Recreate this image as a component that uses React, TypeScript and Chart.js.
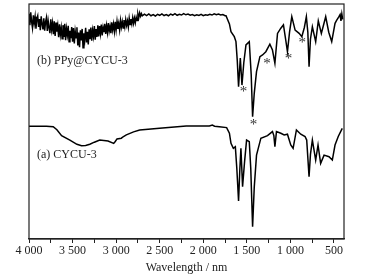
import React, { useEffect, useRef } from "react";
import { Chart, registerables } from "chart.js";

Chart.register(...registerables);

// Curve (b) PPy@CYCU-3 (upper trace): noisy high-wavenumber part, read every 10 cm-1
const wnBNoisy: number[] = [
  4000, 3990, 3980, 3970, 3960, 3950, 3940, 3930, 3920, 3910,
  3900, 3890, 3880, 3870, 3860, 3850, 3840, 3830, 3820, 3810,
  3800, 3790, 3780, 3770, 3760, 3750, 3740, 3730, 3720, 3710,
  3700, 3690, 3680, 3670, 3660, 3650, 3640, 3630, 3620, 3610,
  3600, 3590, 3580, 3570, 3560, 3550, 3540, 3530, 3520, 3510,
  3500, 3490, 3480, 3470, 3460, 3450, 3440, 3430, 3420, 3410,
  3400, 3390, 3380, 3370, 3360, 3350, 3340, 3330, 3320, 3310,
  3300, 3290, 3280, 3270, 3260, 3250, 3240, 3230, 3220, 3210,
  3200, 3190, 3180, 3170, 3160, 3150, 3140, 3130, 3120, 3110,
  3100, 3090, 3080, 3070, 3060, 3050, 3040, 3030, 3020, 3010,
  3000, 2990, 2980, 2970, 2960, 2950, 2940, 2930, 2920, 2910,
  2900, 2890, 2880, 2870, 2860, 2850, 2840, 2830, 2820, 2810,
  2800, 2790, 2780, 2770, 2760, 2750, 2740, 2730, 2720, 2710,
];
const valBNoisy: number[] = [
  95.8, 91.0, 96.5, 92.4, 89.8, 95.2, 91.8, 94.6, 89.5, 93.8,
  95.0, 90.2, 93.6, 88.9, 94.8, 91.5, 89.2, 93.9, 88.6, 92.4,
  94.2, 88.5, 92.8, 90.0, 87.6, 93.5, 89.1, 91.9, 87.2, 92.6,
  86.4, 92.1, 88.2, 90.8, 85.9, 91.4, 87.0, 89.9, 85.2, 91.0,
  86.0, 91.6, 84.6, 89.5, 86.8, 90.7, 83.9, 88.6, 85.4, 90.2,
  84.0, 89.8, 83.2, 88.4, 85.6, 90.1, 82.4, 87.9, 81.6, 88.8,
  84.5, 89.4, 81.4, 87.6, 84.9, 89.9, 83.6, 88.2, 82.8, 89.2,
  85.0, 90.0, 84.4, 88.8, 86.2, 90.6, 84.8, 89.3, 86.0, 90.9,
  86.2, 90.6, 87.4, 91.2, 86.6, 90.0, 88.0, 91.6, 87.3, 90.8,
  87.9, 91.9, 88.4, 90.6, 87.6, 92.2, 89.0, 91.5, 88.3, 92.4,
  89.0, 92.6, 89.4, 91.7, 88.9, 93.0, 90.2, 92.5, 89.8, 93.2,
  90.4, 93.4, 90.9, 92.8, 90.2, 93.9, 91.3, 93.6, 91.6, 94.2,
  91.8, 94.0, 92.0, 94.4, 93.0, 95.8, 94.2, 96.2, 94.8, 95.9,
];
// Curve (b): plateau and fingerprint region
const wnBRest: number[] = [
  2700, 2675, 2650, 2625, 2600, 2575, 2550, 2525, 2500, 2475, 2450, 2425, 2400, 2375, 2350, 2325,
  2300, 2275, 2250, 2225, 2200, 2175, 2150, 2125, 2100, 2075, 2050, 2025, 2000, 1975, 1950, 1925,
  1900, 1875, 1850, 1825, 1800, 1775, 1750, 1739, 1700, 1682, 1644, 1625, 1610, 1595, 1575, 1556,
  1535, 1510, 1472, 1450, 1434, 1415, 1389, 1350, 1320, 1282, 1236, 1206, 1178, 1148, 1110, 1080,
  1055, 1034, 1010, 984, 946, 900, 869, 840, 817, 800, 786, 770, 748, 710, 680, 645,
  595, 560, 526, 488, 470, 443, 430, 420, 410, 400,
];
const valBRest: number[] = [
  95.0, 95.7, 95.1, 95.8, 95.0, 95.5, 94.9, 95.6, 95.2, 95.8, 95.1, 95.5, 95.0, 95.7, 95.3, 95.9,
  95.2, 95.6, 95.3, 95.9, 95.4, 95.7, 95.2, 95.5, 95.0, 95.4, 95.1, 95.6, 95.0, 95.4, 95.2, 95.6,
  95.3, 95.8, 95.4, 95.7, 95.3, 95.5, 95.0, 95.0, 91.5, 88.2, 86.1, 84.0, 76.0, 64.8, 77.0, 65.5,
  75.0, 82.6, 84.0, 70.0, 52.0, 62.0, 71.2, 77.6, 78.3, 79.7, 82.9, 80.4, 74.8, 87.5, 89.7, 91.1,
  85.0, 79.7, 88.0, 94.6, 88.9, 87.5, 86.1, 90.0, 94.6, 88.0, 73.3, 85.0, 90.3, 84.0, 92.8, 87.5,
  94.6, 88.0, 84.0, 91.8, 93.0, 94.6, 95.5, 92.8, 95.8, 93.5,
];

// Curve (a) CYCU-3 (lower trace)
const wnA: number[] = [
  4000, 3900, 3800, 3722, 3680, 3626, 3531, 3450, 3397, 3350, 3302, 3250, 3188, 3093, 3028, 3010,
  2990, 2940, 2920, 2883, 2800, 2730, 2502, 2196, 1930, 1896, 1870, 1816, 1732, 1700, 1682, 1655,
  1632, 1615, 1595, 1580, 1568, 1549, 1526, 1503, 1472, 1455, 1434, 1415, 1389, 1339, 1263, 1206,
  1190, 1178, 1160, 1110, 1072, 1034, 996, 969, 931, 881, 832, 813, 786, 770, 748, 710,
  683, 653, 614, 557, 519, 488, 451, 405,
];
const valA: number[] = [
  48.0, 48.0, 48.0, 47.8, 46.5, 44.0, 42.1, 40.3, 39.7, 39.8, 40.3, 41.2, 42.1, 41.7, 40.7, 41.5,
  42.6, 42.9, 43.5, 44.3, 45.6, 46.4, 47.1, 48.1, 48.1, 48.5, 48.0, 47.8, 47.4, 45.0, 40.7, 38.6,
  39.3, 30.0, 16.2, 30.0, 38.6, 22.3, 32.9, 42.1, 41.4, 30.0, 5.2, 22.0, 35.7, 42.9, 44.0, 45.7,
  44.0, 39.3, 45.7, 45.0, 44.3, 44.6, 40.0, 38.6, 46.4, 44.6, 43.6, 42.1, 26.5, 36.0, 42.1, 33.6,
  40.0, 32.2, 35.7, 35.0, 33.6, 40.0, 43.6, 47.1,
];

// Asterisk markers on curve (b)
const starX: number[] = [1537, 1423, 1270, 1023, 863];
const starY: number[] = [63.4, 49.5, 75.4, 77.6, 84.3];

const labelTexts: string[] = ["(b) PPy@CYCU-3", "(a) CYCU-3"];
const labelX: number[] = [3908, 3908];
const labelY: number[] = [75.7, 35.7];

const FONT = "'Times New Roman', 'Liberation Serif', serif";

function fmt(v: number): string {
  if (v >= 1000) {
    const th = Math.floor(v / 1000);
    const rest = String(v % 1000).padStart(3, "0");
    return th + " " + rest;
  }
  return String(v);
}

export default function App() {
  const ref = useRef<HTMLCanvasElement | null>(null);
  useEffect(() => {
    if (!ref.current) return;
    const wnB = wnBNoisy.concat(wnBRest);
    const valB = valBNoisy.concat(valBRest);
    const framePlugin = {
      id: "frameAndText",
      afterDatasetsDraw(chart: any) {
        const { ctx, chartArea, scales } = chart;
        ctx.save();
        ctx.strokeStyle = "#222";
        ctx.lineWidth = 1.2;
        ctx.strokeRect(chartArea.left, chartArea.top, chartArea.right - chartArea.left, chartArea.bottom - chartArea.top);
        ctx.fillStyle = "#333";
        ctx.font = "15px " + FONT;
        ctx.textAlign = "center";
        ctx.textBaseline = "middle";
        for (let i = 0; i < starX.length; i++) {
          ctx.fillText("*", scales.x.getPixelForValue(starX[i]), scales.y.getPixelForValue(starY[i]) + 2);
        }
        ctx.fillStyle = "#222";
        ctx.font = "12px " + FONT;
        ctx.textAlign = "left";
        for (let i = 0; i < labelTexts.length; i++) {
          ctx.fillText(labelTexts[i], scales.x.getPixelForValue(labelX[i]), scales.y.getPixelForValue(labelY[i]));
        }
        ctx.restore();
      },
    };
    const chart = new Chart(ref.current, {
      type: "line",
      data: {
        datasets: [
          {
            label: "PPy@CYCU-3",
            data: wnB.map((x, i) => ({ x, y: valB[i] })),
            borderColor: "#000",
            borderWidth: 1.5,
            pointRadius: 0,
            tension: 0,
          },
          {
            label: "CYCU-3",
            data: wnA.map((x, i) => ({ x, y: valA[i] })),
            borderColor: "#000",
            borderWidth: 1.5,
            pointRadius: 0,
            tension: 0,
          },
        ],
      },
      options: {
        animation: false,
        responsive: false,
        layout: { padding: { left: 29, right: 27, top: 4, bottom: 0 } },
        plugins: { legend: { display: false }, tooltip: { enabled: false } },
        scales: {
          x: {
            type: "linear",
            reverse: true,
            min: 385,
            max: 4000,
            afterFit(scale: any) {
              scale.height = 36;
            },
            border: { display: true, color: "#222", width: 1.2 },
            grid: { drawOnChartArea: false, drawTicks: true, tickLength: 4, color: "#222" },
            ticks: {
              stepSize: 250,
              includeBounds: false,
              autoSkip: false,
              maxRotation: 0,
              padding: 1,
              color: "#222",
              font: { family: FONT, size: 12 },
              callback: (v: any) => (Number(v) % 500 === 0 ? fmt(Number(v)) : ""),
            },
            title: {
              display: true,
              text: "Wavelength / nm",
              color: "#222",
              font: { family: FONT, size: 12 },
              padding: { top: 0, bottom: 0 },
            },
          },
          y: { display: false, min: 0, max: 100 },
        },
      },
      plugins: [framePlugin],
    });
    return () => chart.destroy();
  }, []);
  return (
    <div style={{ position: "fixed", left: 0, top: 0, width: 371, height: 275, background: "#fff" }}>
      <canvas ref={ref} width={371} height={275} style={{ width: 371, height: 275 }} />
    </div>
  );
}
